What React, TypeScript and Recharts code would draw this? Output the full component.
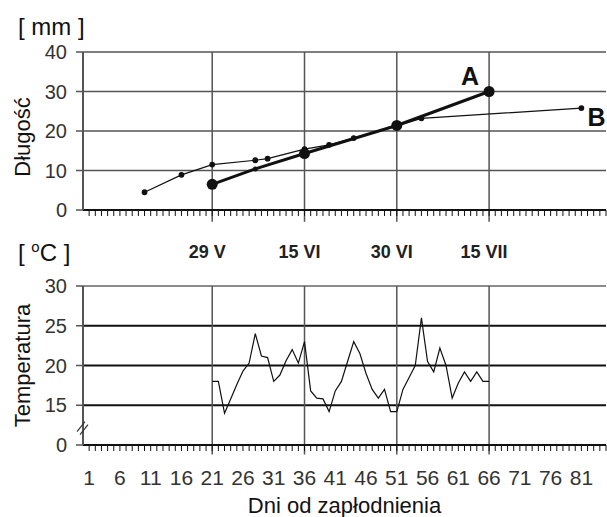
import React from "react";
import { LineChart, Line, XAxis, YAxis, CartesianGrid, ReferenceLine, ReferenceDot, Label } from "recharts";

// length of larvae, series A (thick) and B (thin)
const aDays = [21, 28, 36, 51, 66];
const aLength = [6.5, 10.4, 14.3, 21.4, 30];
const aMeasured = [21, 36, 51, 66];

const bDays = [10, 16, 21, 28, 30, 36, 40, 44, 51, 55, 81];
const bLength = [4.5, 8.9, 11.5, 12.6, 13, 15.4, 16.5, 18.2, 21.3, 23.2, 25.8];

// daily water temperature, day 21 .. 66
const tempFirstDay = 21;
const temperature = [
  18, 18, 14, 15.8, 17.6, 19.3, 20.3, 24, 21.2, 21, 18, 18.8, 20.6, 22, 20.3, 23,
  16.8, 15.9, 15.8, 14.2, 16.8, 18, 20.5, 23, 21.5, 19, 17, 15.9, 17, 14.2, 14.2,
  17, 18.5, 20, 26, 20.5, 19.2, 22.2, 20, 15.9, 17.8, 19.2, 18, 19.2, 18, 18,
];

const dayTicks = Array.from({ length: 85 }, (_, i) => i + 1);
const dayLabels = [1, 6, 11, 16, 21, 26, 31, 36, 41, 46, 51, 56, 61, 66, 71, 76, 81];
const dateDays = [21, 36, 51, 66];
const dateLabels = ["29 V", "15 VI", "30 VI", "15 VII"];
const lengthTicks = [0, 10, 20, 30, 40];
// broken axis: the lowest tick stands for 0
const tempTicks = [10, 15, 20, 25, 30];
const tempTickLabels = ["0", "15", "20", "25", "30"];

const aData = aDays.map((day, i) => ({ day, len: aLength[i] }));
const bData = bDays.map((day, i) => ({ day, len: bLength[i] }));
const tData = temperature.map((t, i) => ({ day: tempFirstDay + i, t }));

const FONT = '"Liberation Sans", Arial, sans-serif';
const DOMAIN: [number, number] = [0, 85];

export default function App() {
  const lastA = aData[aData.length - 1];
  const lastB = bData[bData.length - 1];
  return (
    <div style={{ position: "absolute", left: 0, top: 0, width: 607, height: 517, background: "#fff", fontFamily: FONT, overflow: "hidden" }}>
      <div style={{ position: "absolute", left: 18, top: 13, fontSize: 24, color: "#111" }}>[ mm ]</div>
      <div style={{ position: "absolute", left: 18, top: 239, fontSize: 24, color: "#111" }}>
        [ <span style={{ fontSize: 15, position: "relative", top: -9 }}>o</span>C ]
      </div>

      <div style={{ position: "absolute", left: 0, top: 0 }}>
        <LineChart width={607} height={240} margin={{ top: 52, right: 1, left: 0, bottom: 0 }}>
          <CartesianGrid vertical={false} stroke="#555" strokeWidth={1.5} />
          <XAxis
            dataKey="day"
            type="number"
            domain={DOMAIN}
            ticks={dayTicks}
            interval={0}
            height={30}
            tickSize={6}
            tickFormatter={() => ""}
            axisLine={{ stroke: "#111", strokeWidth: 2 }}
            tickLine={{ stroke: "#111" }}
          />
          <YAxis
            type="number"
            domain={[0, 40]}
            ticks={lengthTicks}
            width={83}
            tickSize={7}
            tickMargin={9}
            axisLine={{ stroke: "#555", strokeWidth: 2 }}
            tickLine={{ stroke: "#555", strokeWidth: 1.5 }}
            tick={{ fill: "#333", fontSize: 20 }}
          >
            <Label value="Długość" angle={-90} position="insideLeft" offset={22} dy={6} style={{ textAnchor: "middle", fill: "#111", fontSize: 22 }} />
          </YAxis>
          {dateDays.map((d) => (
            <ReferenceLine key={d} segment={[{ x: d, y: -3 }, { x: d, y: 40 }]} ifOverflow="visible" stroke="#555" strokeWidth={1.5} />
          ))}
          <Line
            data={bData}
            dataKey="len"
            stroke="#111"
            strokeWidth={1.2}
            dot={{ r: 2.3, fill: "#111", stroke: "#111" }}
            isAnimationActive={false}
          />
          <Line
            data={aData}
            dataKey="len"
            stroke="#111"
            strokeWidth={3}
            dot={(p: any) => (
              <circle key={p.index} cx={p.cx} cy={p.cy} r={aMeasured.includes(p.payload.day) ? 5.5 : 2.5} fill="#111" />
            )}
            isAnimationActive={false}
          />
          <ReferenceDot
            x={lastA.day}
            y={lastA.len}
            r={1}
            ifOverflow="visible"
            shape={(p: any) => (
              <text x={p.cx - 19} y={p.cy - 7} textAnchor="middle" fontSize={25} fontWeight="bold" fill="#111">A</text>
            )}
          />
          <ReferenceDot
            x={lastB.day}
            y={lastB.len}
            r={1}
            ifOverflow="visible"
            shape={(p: any) => (
              <text x={p.cx + 6} y={p.cy + 18} textAnchor="start" fontSize={25} fontWeight="bold" fill="#111">B</text>
            )}
          />
        </LineChart>
      </div>

      <div style={{ position: "absolute", left: 0, top: 230 }}>
        <LineChart width={607} height={287} data={tData} margin={{ top: 6, right: 1, left: 0, bottom: 0 }}>
          <XAxis
            dataKey="day"
            type="number"
            domain={DOMAIN}
            ticks={dayTicks}
            interval={0}
            height={72}
            tickSize={6}
            tickMargin={19}
            tickFormatter={(d: number) => (dayLabels.includes(d) ? String(d) : "")}
            axisLine={{ stroke: "#111", strokeWidth: 2 }}
            tickLine={{ stroke: "#111" }}
            tick={{ fill: "#333", fontSize: 21 }}
          >
            <Label value="Dni od zapłodnienia" position="insideBottom" offset={4} style={{ fill: "#111", fontSize: 22 }} />
          </XAxis>
          <XAxis
            xAxisId="top"
            dataKey="day"
            orientation="top"
            type="number"
            domain={DOMAIN}
            allowDataOverflow
            ticks={dateDays}
            interval={0}
            height={50}
            tickSize={0}
            tickMargin={28}
            axisLine={false}
            tickLine={false}
            tickFormatter={(d: number) => dateLabels[dateDays.indexOf(d)] ?? ""}
            tick={{ fill: "#222", fontSize: 18, fontWeight: "bold", dx: -5 }}
          />
          <YAxis
            type="number"
            domain={[10, 30]}
            ticks={tempTicks}
            width={83}
            tickSize={7}
            tickMargin={9}
            tickFormatter={(v: number) => tempTickLabels[tempTicks.indexOf(v)] ?? ""}
            axisLine={{ stroke: "#555", strokeWidth: 2 }}
            tickLine={{ stroke: "#555", strokeWidth: 1.5 }}
            tick={{ fill: "#333", fontSize: 20 }}
          >
            <Label value="Temperatura" angle={-90} position="insideLeft" offset={22} style={{ textAnchor: "middle", fill: "#111", fontSize: 22 }} />
          </YAxis>
          <ReferenceLine y={30} stroke="#666" strokeWidth={1.5} />
          {[15, 20, 25].map((v) => (
            <ReferenceLine key={v} y={v} stroke="#111" strokeWidth={2} />
          ))}
          {dateDays.map((d) => (
            <ReferenceLine key={d} segment={[{ x: d, y: 8.8 }, { x: d, y: 30 }]} ifOverflow="visible" stroke="#555" strokeWidth={1.5} />
          ))}
          <ReferenceDot
            x={0}
            y={12.2}
            r={1}
            ifOverflow="visible"
            shape={(p: any) => (
              <g stroke="#333" strokeWidth={1.2}>
                <line x1={p.cx - 6} y1={p.cy + 4} x2={p.cx + 2} y2={p.cy - 6} />
                <line x1={p.cx - 3} y1={p.cy + 7} x2={p.cx + 5} y2={p.cy - 3} />
              </g>
            )}
          />
          <Line type="linear" dataKey="t" stroke="#111" strokeWidth={1.2} dot={false} isAnimationActive={false} />
        </LineChart>
      </div>
    </div>
  );
}
